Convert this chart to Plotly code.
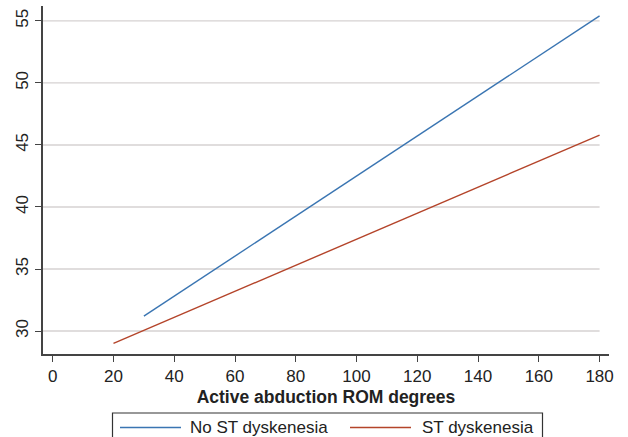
import plotly.graph_objects as go

# Data (linear predictions)
groups = ["No ST dyskenesia", "ST dyskenesia"]
no_st_x = [30, 180]
no_st_y = [31.2, 55.4]
st_x = [20, 180]
st_y = [29.0, 45.8]
x_ticks = [0, 20, 40, 60, 80, 100, 120, 140, 160, 180]
y_ticks = [30, 35, 40, 45, 50, 55]
x_title = "Active abduction ROM degrees"

colors = ["#3a75b2", "#b4442a"]
FONT = "Liberation Sans, Arial, sans-serif"
XMIN, XMAX = -3.2, 183.1
YMIN, YMAX = 28.15, 56.2

# plot-area geometry in pixels (for the hand-drawn legend box)
L, R, T, B = 43, 19, 6, 83
W, H = 628, 437
PW, PH = W - L - R, H - T - B


def px_x(p):
    return (p - L) / PW


def px_y(p):
    return (H - B - p) / PH


fig = go.Figure()
fig.add_trace(go.Scatter(x=no_st_x, y=no_st_y, mode="lines", name=groups[0],
                         line=dict(color=colors[0], width=1.4)))
fig.add_trace(go.Scatter(x=st_x, y=st_y, mode="lines", name=groups[1],
                         line=dict(color=colors[1], width=1.4)))

shapes = []
# gridlines that stop at the last tick, like the reference
for yv in y_ticks:
    shapes.append(dict(type="line", xref="x", yref="y", x0=XMIN, x1=x_ticks[-1],
                       y0=yv, y1=yv, line=dict(color="#d6d2d2", width=1.4),
                       layer="below"))

# legend box (cut by the bottom edge as in the reference)
shapes.append(dict(type="rect", xref="paper", yref="paper",
                   x0=px_x(112.5), x1=px_x(542.5), y0=px_y(413), y1=px_y(450),
                   line=dict(color="#333333", width=1.2), fillcolor="rgba(0,0,0,0)"))
annotations = []
samples = [(120, 181, 188), (350, 411, 420)]
for (sx0, sx1, tx), name, col in zip(samples, groups, colors):
    shapes.append(dict(type="line", xref="paper", yref="paper",
                       x0=px_x(sx0), x1=px_x(sx1), y0=px_y(427.5), y1=px_y(427.5),
                       line=dict(color=col, width=1.4)))
    annotations.append(dict(xref="paper", yref="paper", x=px_x(tx), y=px_y(427.5),
                            xanchor="left", yanchor="middle", showarrow=False,
                            text=name, font=dict(size=17, color="#222222")))

fig.update_layout(
    width=W, height=H,
    margin=dict(l=L, r=R, t=T, b=B, autoexpand=False),
    paper_bgcolor="white", plot_bgcolor="white",
    font=dict(family=FONT, size=17, color="#222222"),
    shapes=shapes, annotations=annotations,
    showlegend=False,
)
fig.update_xaxes(range=[XMIN, XMAX], tickvals=x_ticks, ticktext=[str(v) for v in x_ticks],
                 showgrid=False, zeroline=False, showline=True, linecolor="#444444",
                 linewidth=1.5, ticks="outside", ticklen=6, tickcolor="#444444",
                 tickfont=dict(size=17), automargin=False,
                 title=dict(text="<b>" + x_title + "</b>", font=dict(size=17.5), standoff=6))
fig.update_yaxes(range=[YMIN, YMAX], tickvals=y_ticks, ticktext=[str(v) for v in y_ticks],
                 showgrid=False, zeroline=False, showline=True, linecolor="#444444",
                 linewidth=1.5, ticks="outside", ticklen=6, tickcolor="#444444",
                 tickangle=-90, tickfont=dict(size=17), automargin=False)

fig.write_html("out.html", config={"displayModeBar": False},
               post_script="document.body.style.margin='0';document.body.style.overflow='hidden';")
